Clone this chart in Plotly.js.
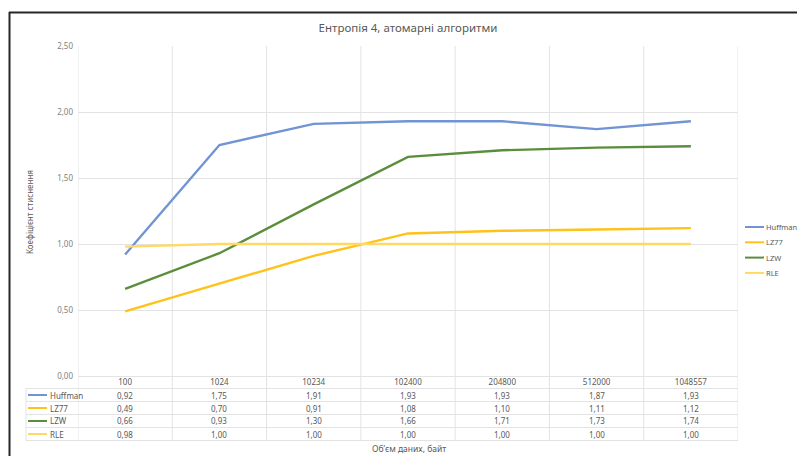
<!DOCTYPE html>
<html>
<head>
<meta charset="utf-8">
<script src="https://cdn.plot.ly/plotly-3.0.1.min.js"></script>
<style>
  html, body { margin: 0; padding: 0; background: #fff; }
  #chart { width: 797px; height: 456px; }
</style>
</head>
<body>
<div id="chart"></div>
<script>
// Data: compression ratio by input size for entropy 4
const sizes = ['100', '1024', '10234', '102400', '204800', '512000', '1048557'];
const seriesNames = ['Huffman', 'LZ77', 'LZW', 'RLE'];
const huffman = [0.92, 1.75, 1.91, 1.93, 1.93, 1.87, 1.93];
const lz77    = [0.49, 0.70, 0.91, 1.08, 1.10, 1.11, 1.12];
const lzw     = [0.66, 0.93, 1.30, 1.66, 1.71, 1.73, 1.74];
const rle     = [0.98, 1.00, 1.00, 1.00, 1.00, 1.00, 1.00];
const seriesValues = [huffman, lz77, lzw, rle];
const seriesColors = ['#7094D4', '#FFC21A', '#5B8E3C', '#FFD966'];

const W = 797, H = 456;
const M = { l: 78, r: 59, t: 46, b: 80 };
const PW = W - M.l - M.r, PH = H - M.t - M.b;
// pixel -> paper helpers
const px = v => (v - M.l) / PW;
const py = v => (H - M.b - v) / PH;

const FONT = 'Noto Sans, Liberation Sans, sans-serif';
const TXT = '#595959';
const GRID = '#E3E3E3';
const fmt = v => v.toFixed(2).replace('.', ',');

const traces = seriesNames.map((name, s) => ({
  type: 'scatter',
  mode: 'lines',
  name: name,
  x: sizes,
  y: seriesValues[s],
  line: { color: seriesColors[s], width: 2.4 },
  showlegend: false,
  hoverinfo: 'skip'
}));

const shapes = [];
const annotations = [];

// Frame lines (top and left)
shapes.push({ type: 'line', xref: 'paper', yref: 'paper', x0: px(9), x1: px(W + 5), y0: py(12.5), y1: py(12.5),
  line: { color: '#262626', width: 2 } });
shapes.push({ type: 'line', xref: 'paper', yref: 'paper', x0: px(9.5), x1: px(9.5), y0: py(12), y1: py(H + 5),
  line: { color: '#262626', width: 2 } });

// Data table rows
const rowLines = [388.5, 401.5, 414.5, 427.5, 440.5];
const rowCenters = [395, 408, 421, 434];
rowLines.forEach(y => {
  shapes.push({ type: 'line', xref: 'paper', yref: 'paper', x0: px(26), x1: 1, y0: py(y), y1: py(y),
    line: { color: GRID, width: 1 } });
});
// table left edge
shapes.push({ type: 'line', xref: 'paper', yref: 'paper', x0: px(26), x1: px(26), y0: py(388.5), y1: py(440.5),
  line: { color: GRID, width: 1 } });
// column boundaries through plot and table
for (let k = 0; k <= sizes.length; k++) {
  shapes.push({ type: 'line', xref: 'x', yref: 'paper', x0: k - 0.5, x1: k - 0.5, y0: 1, y1: py(440.5),
    line: { color: GRID, width: 1 }, layer: 'below' });
}

// Table cells and series keys
seriesNames.forEach((name, s) => {
  const yc = py(rowCenters[s]);
  shapes.push({ type: 'line', xref: 'paper', yref: 'paper', x0: px(28), x1: px(47), y0: yc, y1: yc,
    line: { color: seriesColors[s], width: 2 } });
  annotations.push({ xref: 'paper', yref: 'paper', x: px(47.5), y: yc, text: name, showarrow: false,
    xanchor: 'left', yanchor: 'middle', font: { family: FONT, size: 8, color: TXT } });
  seriesValues[s].forEach((v, i) => {
    annotations.push({ xref: 'x', yref: 'paper', x: i, y: yc, text: fmt(v), showarrow: false,
      xanchor: 'center', yanchor: 'middle', font: { family: FONT, size: 8, color: TXT } });
  });
});

// Legend on the right
seriesNames.forEach((name, s) => {
  const yc = py(227 + s * 15.3);
  shapes.push({ type: 'line', xref: 'paper', yref: 'paper', x0: px(745), x1: px(764), y0: yc, y1: yc,
    line: { color: seriesColors[s], width: 2 } });
  annotations.push({ xref: 'paper', yref: 'paper', x: px(764.5), y: yc, text: name, showarrow: false,
    xanchor: 'left', yanchor: 'middle', font: { family: FONT, size: 7.5, color: TXT } });
});

// Axis titles
annotations.push({ xref: 'paper', yref: 'paper', x: px(409), y: py(448), text: 'Об’єм даних, байт',
  showarrow: false, xanchor: 'center', yanchor: 'middle', font: { family: FONT, size: 8.5, color: TXT } });
annotations.push({ xref: 'paper', yref: 'paper', x: px(29), y: py(212), text: 'Коефіцієнт стиснення',
  showarrow: false, textangle: -90, xanchor: 'center', yanchor: 'middle', font: { family: FONT, size: 8, color: TXT } });

const layout = {
  width: W, height: H,
  margin: M,
  paper_bgcolor: '#fff', plot_bgcolor: '#fff',
  separators: ', ',
  font: { family: FONT, color: TXT },
  title: { text: 'Ентропія 4, атомарні алгоритми', x: 0.5, xref: 'paper', xanchor: 'center',
    y: 1 - 28 / H, yref: 'container', yanchor: 'middle', font: { family: FONT, size: 11.5, color: TXT } },
  xaxis: {
    type: 'category', range: [-0.5, sizes.length - 0.5],
    showgrid: false, zeroline: false, showline: false, ticks: '',
    tickfont: { family: FONT, size: 8, color: TXT }, fixedrange: true
  },
  yaxis: {
    range: [0, 2.5], dtick: 0.5, tickformat: '.2f',
    showgrid: true, gridcolor: GRID, gridwidth: 1,
    zeroline: true, zerolinecolor: GRID, zerolinewidth: 1, showline: false, ticks: '',
    ticklabelstandoff: 4,
    tickfont: { family: FONT, size: 8, color: '#7F7F7F' }, fixedrange: true
  },
  shapes: shapes,
  annotations: annotations,
  showlegend: false
};

Plotly.newPlot('chart', traces, layout, { displayModeBar: false, staticPlot: true });
</script>
</body>
</html>
